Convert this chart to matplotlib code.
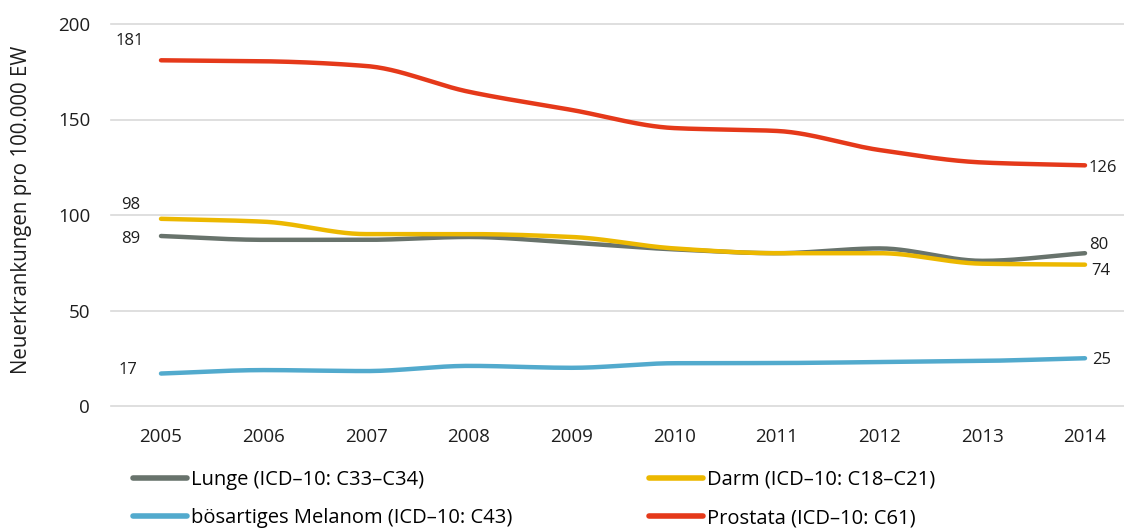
import numpy as np
import matplotlib
matplotlib.use("Agg")
import matplotlib.pyplot as plt
from matplotlib.lines import Line2D

years = [2005, 2006, 2007, 2008, 2009, 2010, 2011, 2012, 2013, 2014]
lunge = [89, 87, 87, 88.5, 85.5, 82, 80, 82.5, 76, 80]
darm = [98, 96.5, 90, 90, 88.5, 82.5, 80, 80, 74.5, 74]
melanom = [17, 18.8, 18.3, 21, 20, 22.4, 22.5, 23, 23.6, 25]
prostata = [181, 180.5, 178, 164.5, 155, 145.5, 144, 134, 127.5, 126]

labels = ["Lunge (ICD–10: C33–C34)", "bösartiges Melanom (ICD–10: C43)",
          "Darm (ICD–10: C18–C21)", "Prostata (ICD–10: C61)"]
colors = ["#68736c", "#52aacd", "#ecb800", "#e5391a"]
series = [lunge, melanom, darm, prostata]

# label offsets (px) for first / last value
start_off = [(-30, -3), (-33, 4), (-30, 14), (-31, 19)]
end_off = [(4, 8), (7, -2), (6, -6), (4, -3)]


def smooth(x, y, n=30):
    # monotone cubic (Fritsch-Carlson) for drawing a smooth line
    x = np.asarray(x, float)
    y = np.asarray(y, float)
    h = np.diff(x)
    d = np.diff(y) / h
    m = np.zeros_like(y)
    m[0], m[-1] = d[0], d[-1]
    for i in range(1, len(y) - 1):
        if d[i - 1] * d[i] <= 0:
            m[i] = 0
        else:
            m[i] = 2 / (1 / d[i - 1] + 1 / d[i])
    xs, ys = [], []
    for i in range(len(x) - 1):
        t = np.linspace(0, 1, n)
        h00 = 2 * t**3 - 3 * t**2 + 1
        h10 = t**3 - 2 * t**2 + t
        h01 = -2 * t**3 + 3 * t**2
        h11 = t**3 - t**2
        xs.append(x[i] + t * h[i])
        ys.append(h00 * y[i] + h10 * h[i] * m[i] + h01 * y[i + 1] + h11 * h[i] * m[i + 1])
    return np.concatenate(xs), np.concatenate(ys)


plt.rcParams["font.family"] = ["Open Sans", "DejaVu Sans"]
txt = "#1e1e1e"

fig = plt.figure(figsize=(11.24, 5.31), dpi=100)
ax = fig.add_axes([111 / 1124, 1 - 406 / 531, (1124 - 111) / 1124, (406 - 24) / 531])

for ys, c in zip(series, colors):
    sx, sy = smooth(years, ys)
    ax.plot(sx, sy, color=c, lw=3.2, solid_capstyle="round", zorder=3)

for ys, so, eo in zip(series, start_off, end_off):
    ax.annotate(f"{ys[0]:.0f}", (years[0], ys[0]), xytext=(so[0] * 0.72, so[1] * 0.72),
                textcoords="offset points", ha="center", va="center", fontsize=12, color=txt)
    ax.annotate(f"{ys[-1]:.0f}", (years[-1], ys[-1]), xytext=(eo[0] * 0.72, eo[1] * 0.72),
                textcoords="offset points", ha="left", va="center", fontsize=12, color=txt)

ax.set_ylim(0, 200)
ax.set_yticks([0, 50, 100, 150, 200])
ax.set_xlim(2005 - 50 / 102.67, 2014 + 39 / 102.67)
ax.set_xticks(years)
ax.grid(axis="y", color="#d9d9d9", lw=1.2)
for gl in ax.yaxis.get_gridlines():
    gl.set_clip_on(False)
ax.set_axisbelow(True)
for s in ax.spines.values():
    s.set_visible(False)
ax.tick_params(length=0, labelsize=13.5, colors=txt)
ax.tick_params(axis="y", pad=15)
ax.tick_params(axis="x", pad=16)
ax.set_ylabel("Neuerkrankungen pro 100.000 EW", fontsize=14.8, color=txt)
ax.yaxis.set_label_coords(-0.078, 0.513)

handles = [Line2D([], [], color=c, lw=4, solid_capstyle="round") for c in colors]
fig.legend(handles, labels, ncol=2, loc="upper left", bbox_to_anchor=(133 / 1124, 1 - 470 / 531),
           frameon=False, handlelength=2.7, handletextpad=0.2, columnspacing=6.75,
           labelspacing=0.9, borderpad=0, borderaxespad=0,
           prop={"family": ["Open Sans", "DejaVu Sans"], "size": 14.5})

fig.savefig("out.png", dpi=100)
